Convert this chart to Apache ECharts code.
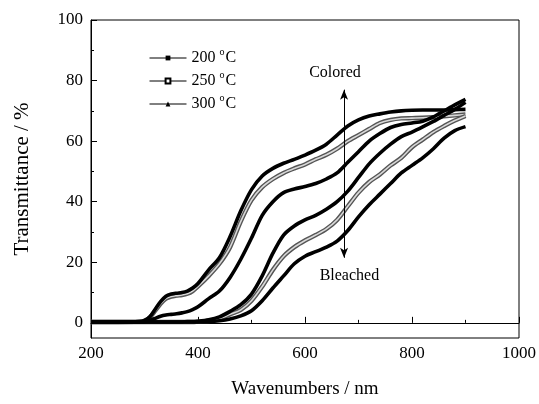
<!DOCTYPE html>
<html lang="en">

<head>
    <meta charset="UTF-8">
    <title>Transmittance</title>
    <script src="https://cdn.jsdelivr.net/npm/echarts@6/dist/echarts.min.js"></script>
    <style>
        body {
            margin: 0;
        }

        #chart {
            width: 539px;
            height: 404px;
        }
    </style>
</head>

<body>
    <div id="chart"></div>
</body>
<script>
    // wavelength (nm)
    var wl = [200, 250, 290, 300, 310, 320, 330, 340, 350, 360, 370, 380, 390, 400,
        420, 440, 460, 480, 500, 520, 540, 560, 580, 600, 620, 640, 660, 680, 700,
        720, 740, 760, 780, 800, 820, 840, 860, 880, 900];

    // colored state
    var col200 = [0.3, 0.3, 0.4, 0.8, 2, 4.5, 7, 8.8, 9.5, 9.8, 10, 10.5, 11.5, 13,
        17.5, 21.5, 28.5, 37, 44, 48.5, 51, 52.7, 54, 55.4, 57, 59, 62, 65, 67,
        68.3, 69, 69.6, 70, 70.2, 70.3, 70.3, 70.3, 70.4, 70.5];
    var col250 = [0.3, 0.3, 0.4, 0.7, 1.8, 4, 6.3, 8, 8.7, 9, 9.2, 9.6, 10.5, 12,
        15.5, 19.5, 25, 33.5, 40.5, 44.8, 47.5, 49.5, 51, 52.3, 54, 55.5, 57.5, 60, 62,
        64, 66, 67, 67.5, 67.6, 67.7, 67.9, 68.2, 68.5, 68.8];
    var col300 = [0.3, 0.3, 0.3, 0.4, 0.8, 1.5, 2.2, 2.6, 2.8, 3, 3.3, 3.7, 4.4, 5.3,
        8, 10.5, 15, 21, 28, 35.5, 40, 43, 44.2, 45, 46, 47.5, 49.5, 53, 56.5,
        60, 62.5, 64.5, 65.5, 66, 66.6, 68, 70, 72, 73.8];

    // bleached state
    var ble300 = [0.3, 0.3, 0.3, 0.3, 0.3, 0.3, 0.3, 0.3, 0.3, 0.3, 0.3, 0.4, 0.4, 0.5,
        1, 2, 3.8, 6, 9.5, 15.5, 23, 29, 32, 34, 35.5, 37.5, 40, 43.5, 48,
        52.5, 56, 59, 61.5, 63, 64.7, 66.5, 68.5, 70.5, 72.8];
    var ble250 = [0.3, 0.3, 0.3, 0.3, 0.3, 0.3, 0.3, 0.3, 0.3, 0.3, 0.3, 0.3, 0.3, 0.4,
        0.6, 1.3, 2.8, 4.3, 7.3, 12, 17.5, 22, 25, 27.2, 29, 31, 34, 38.5, 43,
        46.5, 49, 52, 54.5, 58, 60.5, 63, 65, 66.8, 68.3];
    var ble200 = [0.3, 0.3, 0.3, 0.3, 0.3, 0.3, 0.3, 0.3, 0.3, 0.3, 0.3, 0.3, 0.3, 0.3,
        0.4, 0.7, 1.3, 2.3, 4, 7.3, 11.5, 15.5, 19.5, 22, 23.5, 25, 27, 30.5, 35,
        39, 42.5, 46, 49.5, 52, 54.5, 57.5, 61, 63.5, 64.8];

    var names = ['200 °C', '250 °C', '300 °C'];
    var yTicks = [0, 20, 40, 60, 80, 100];
    var yMinor = [10, 30, 50, 70, 90];

    var font = 'Liberation Serif';

    function pairs(ys) {
        return wl.map(function (x, i) { return [x, ys[i]]; });
    }

    function solid(name, ys, sym) {
        return {
            name: name,
            type: 'line',
            data: pairs(ys),
            smooth: 0.3,
            symbol: sym,
            symbolSize: 5,
            showSymbol: false,
            color: '#000',
            lineStyle: { width: 3.6, color: '#000' },
            z: 3
        };
    }

    // hollow squares: a dark band with a light core
    function hollow(name, ys) {
        return [{
            name: name,
            type: 'line',
            data: pairs(ys),
            smooth: 0.3,
            symbol: 'emptyRect',
            symbolSize: 5,
            showSymbol: false,
            color: '#000',
            lineStyle: { width: 4.4, color: '#555' },
            z: 2
        }, {
            name: name,
            type: 'line',
            data: pairs(ys),
            smooth: 0.3,
            showSymbol: false,
            symbol: 'none',
            lineStyle: { width: 1.6, color: '#d8d8d8' },
            z: 2
        }];
    }

    var chart = echarts.init(document.getElementById('chart'));

    var series = [];
    var s0 = solid(names[0], col200, 'rect');
    s0.markLine = {
        silent: true,
        symbol: ['arrow', 'arrow'],
        symbolSize: [6, 10],
        label: { show: false },
        lineStyle: { color: '#000', width: 1, type: 'solid' },
        data: [[{ coord: [673, 21.5] }, { coord: [673, 77] }]]
    };
    series.push(s0);
    series = series.concat(hollow(names[1], col250));
    series.push(solid(names[2], col300, 'triangle'));
    series.push(solid(names[2], ble300, 'triangle'));
    series = series.concat(hollow(names[1], ble250));
    series.push(solid(names[0], ble200, 'rect'));

    var option = {
        animation: false,
        backgroundColor: '#fff',
        textStyle: { fontFamily: font },
        grid: {
            left: 91,
            right: 19,
            top: 20,
            bottom: 66,
            show: true,
            borderColor: '#000',
            borderWidth: 1
        },
        legend: {
            data: names,
            left: 144,
            top: 42,
            orient: 'vertical',
            itemWidth: 37,
            itemHeight: 6,
            itemGap: 4,
            lineStyle: { width: 1, color: '#000' },
            textStyle: {
                fontFamily: font,
                fontSize: 16,
                color: '#000',
                rich: {
                    s: { fontFamily: font, fontSize: 10, padding: [0, 1, 12, 0] }
                }
            },
            formatter: function (n) { return n.replace('°', '{s|o}'); }
        },
        xAxis: {
            type: 'value',
            min: 200,
            max: 1000,
            interval: 200,
            name: 'Wavenumbers / nm',
            nameLocation: 'middle',
            nameGap: 42,
            nameTextStyle: { fontFamily: font, fontSize: 19, color: '#000' },
            axisLine: { lineStyle: { color: '#000', width: 1 } },
            axisTick: { inside: true, length: 6, lineStyle: { color: '#000' } },
            minorTick: { show: true, splitNumber: 2, length: 3, lineStyle: { color: '#000' } },
            axisLabel: {
                fontFamily: font, fontSize: 17, color: '#000', margin: 7,
                formatter: function (v) { return String(v); }
            },
            splitLine: { show: false }
        },
        yAxis: [{
            type: 'value',
            min: -5,
            max: 100,
            name: 'Transmittance / %',
            nameLocation: 'middle',
            nameGap: 58,
            nameTextStyle: { fontFamily: font, fontSize: 21, color: '#000' },
            axisLine: { show: true, lineStyle: { color: '#000', width: 1 } },
            axisTick: { inside: true, length: 6, customValues: yTicks, lineStyle: { color: '#000' } },
            axisLabel: { fontFamily: font, fontSize: 17, color: '#000', margin: 8, customValues: yTicks },
            splitLine: { show: false }
        }, {
            type: 'value',
            min: -5,
            max: 100,
            position: 'left',
            axisLine: { show: false },
            axisTick: { inside: true, length: 3, customValues: yMinor, lineStyle: { color: '#000' } },
            axisLabel: { show: false },
            splitLine: { show: false }
        }],
        series: series
    };

    chart.setOption(option);

    // annotation texts for the arrow
    var pc = chart.convertToPixel({ xAxisIndex: 0, yAxisIndex: 0 }, [656, 82.5]);
    var pb = chart.convertToPixel({ xAxisIndex: 0, yAxisIndex: 0 }, [683, 15.5]);
    chart.setOption({
        graphic: [{
            type: 'text', x: pc[0], y: pc[1],
            style: { text: 'Colored', font: '16px "Liberation Serif"', fill: '#000', align: 'center', verticalAlign: 'middle' }
        }, {
            type: 'text', x: pb[0], y: pb[1],
            style: { text: 'Bleached', font: '16px "Liberation Serif"', fill: '#000', align: 'center', verticalAlign: 'middle' }
        }]
    });
</script>

</html>
